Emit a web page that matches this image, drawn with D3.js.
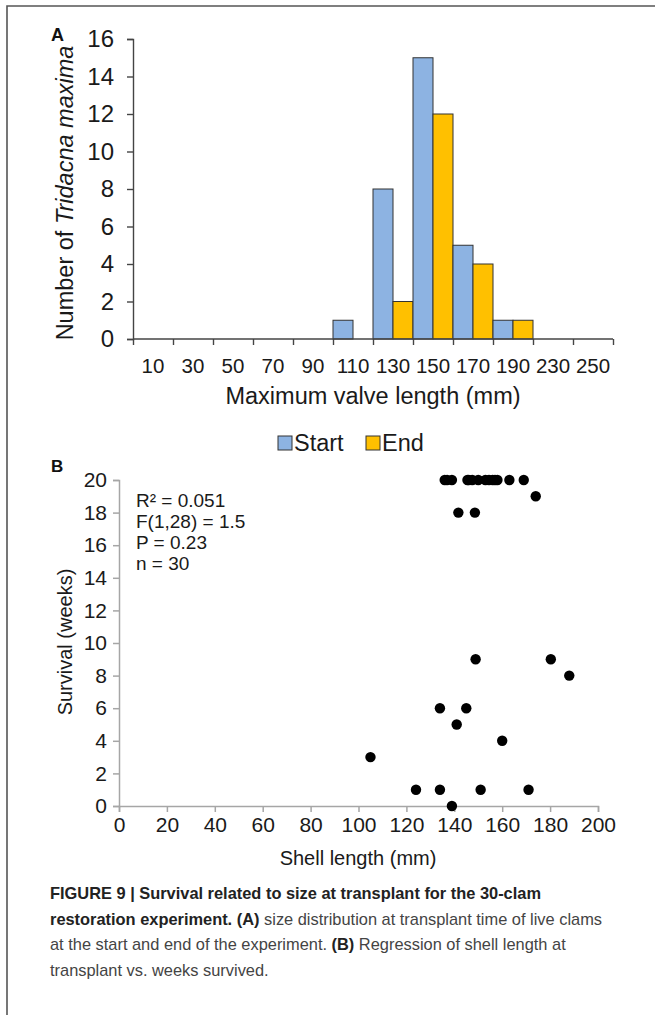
<!DOCTYPE html>
<html><head><meta charset="utf-8">
<script src="https://cdn.jsdelivr.net/npm/d3@7"></script>
<style>
body{margin:0;background:#fff;}
svg{display:block;}
text{font-family:"Liberation Sans",Arial,sans-serif;}
.narrow{font-family:"Liberation Sans Narrow","Liberation Sans",Arial,sans-serif;}
</style></head>
<body><svg id="c" width="655" height="1015"></svg>
<script>
// Panel A data
const sizeClasses = ["10","30","50","70","90","110","130","150","170","190","230","250"];
const startCounts = [0,0,0,0,0,1,8,15,5,1,0,0];
const endCounts   = [0,0,0,0,0,0,2,12,4,1,0,0];
const seriesNames = ["Start","End"];
const yTicksA = [0,2,4,6,8,10,12,14,16];
// Panel B data
const shellLength = [136,137,139,145.5,146,147.5,150,153,154.5,156,157,158,163,169, 174, 141.7,148.6, 148.9,180.3, 188, 134,145, 141, 160, 105, 124,134,151,171, 139];
const survivalWeeks = [20,20,20,20,20,20,20,20,20,20,20,20,20,20, 19, 18,18, 9,9, 8, 6,6, 5, 4, 3, 1,1,1,1, 0];
const xTicksB = [0,20,40,60,80,100,120,140,160,180,200];
const yTicksB = [0,2,4,6,8,10,12,14,16,18,20];
const statsLines = ["R² = 0.051","F(1,28) = 1.5","P = 0.23","n = 30"];

const svg = d3.select("#c");
svg.append("rect").attr("width",655).attr("height",1015).attr("fill","#fff");
// frame
svg.append("path").attr("d","M7,1015V6H655").attr("fill","none").attr("stroke","#555").attr("stroke-width",1.6);

// ---------- Panel A ----------
const colors = {Start:"#8DB3E2", End:"#FFC000"};
const xA = d3.scaleBand().domain(sizeClasses).range([133,613]).padding(0);
const xInner = d3.scaleBand().domain(seriesNames).range([0,xA.bandwidth()]).padding(0);
const yA = d3.scaleLinear().domain([0,16]).range([339,39]);
const gA = svg.append("g");

const rows = sizeClasses.map((c,i)=>({c, Start:startCounts[i], End:endCounts[i]}));
gA.selectAll("g.grp").data(rows).join("g").attr("class","grp")
  .attr("transform",d=>`translate(${xA(d.c)},0)`)
  .selectAll("rect").data(d=>seriesNames.map(s=>({s,v:d[s]})).filter(e=>e.v>0)).join("rect")
  .attr("x",e=>xInner(e.s)).attr("width",xInner.bandwidth())
  .attr("y",e=>yA(e.v)).attr("height",e=>yA(0)-yA(e.v))
  .attr("fill",e=>colors[e.s]).attr("stroke","#333").attr("stroke-width",1);

// y axis
const yAxA = gA.append("g").attr("transform","translate(133,0)")
  .call(d3.axisLeft(yA).tickValues(yTicksA).tickSize(6).tickPadding(13).tickFormat(d3.format("d")));
yAxA.select(".domain").attr("stroke","#444").attr("stroke-width",1.4);
yAxA.selectAll(".tick line").attr("stroke","#444").attr("stroke-width",1.4);
yAxA.selectAll("text").attr("font-size",24).attr("fill","#1a1a1a").attr("font-family","Liberation Sans, Arial");
// x axis boundaries
const xEdge = d3.scaleLinear().domain([0,sizeClasses.length]).range([133,613]);
const xAxA = gA.append("g").attr("transform","translate(0,339)")
  .call(d3.axisBottom(xEdge).tickValues(d3.range(sizeClasses.length+1)).tickSize(6).tickFormat(""));
xAxA.select(".domain").attr("stroke","#444").attr("stroke-width",1.4).attr("d","M133,0H613");
xAxA.selectAll(".tick line").attr("stroke","#444").attr("stroke-width",1.4);
const xLabA = gA.append("g").attr("transform","translate(0,339)")
  .call(d3.axisBottom(xA).tickSize(0).tickPadding(19));
xLabA.select(".domain").remove();
xLabA.selectAll("text").attr("font-size",20.5).attr("fill","#1a1a1a").attr("font-family","Liberation Sans, Arial");

// titles
const yt = gA.append("text").attr("transform","translate(73,193) rotate(-90)")
  .attr("text-anchor","middle").attr("font-size",23.5).attr("fill","#1a1a1a");
yt.append("tspan").text("Number of ");
yt.append("tspan").attr("font-style","italic").text("Tridacna maxima");
gA.append("text").attr("x",373).attr("y",404).attr("text-anchor","middle")
  .attr("font-size",23.5).attr("fill","#1a1a1a").text("Maximum valve length (mm)");
gA.append("text").attr("x",51).attr("y",41).attr("font-size",18).attr("font-weight","bold").attr("fill","#111").text("A");

// legend
const leg = gA.append("g").attr("transform","translate(0,443)");
const legItems = [{s:"Start",x:278},{s:"End",x:366}];
legItems.forEach(it=>{
  leg.append("rect").attr("x",it.x).attr("y",-7).attr("width",14).attr("height",14)
    .attr("fill",colors[it.s]).attr("stroke","#333").attr("stroke-width",1);
  leg.append("text").attr("x",it.x+16).attr("y",8).attr("font-size",23.5).attr("fill","#1a1a1a").text(it.s);
});

// ---------- Panel B ----------
const xB = d3.scaleLinear().domain([0,200]).range([119,598]);
const yB = d3.scaleLinear().domain([0,20]).range([806,480]);
const gB = svg.append("g");
const yAxB = gB.append("g").attr("transform","translate(119,0)")
  .call(d3.axisLeft(yB).tickValues(yTicksB).tickSize(6).tickPadding(6));
const xAxB = gB.append("g").attr("transform","translate(0,806)")
  .call(d3.axisBottom(xB).tickValues(xTicksB).tickSize(6).tickPadding(5));
[yAxB,xAxB].forEach(a=>{
  a.select(".domain").attr("stroke","#a6a6a6").attr("stroke-width",1.5);
  a.selectAll(".tick line").attr("stroke","#a6a6a6").attr("stroke-width",1.5);
  a.selectAll("text").attr("font-size",21).attr("fill","#1a1a1a").attr("class","narrow")
   .attr("font-family","Liberation Sans Narrow, Liberation Sans, Arial");
});
gB.selectAll("circle").data(shellLength.map((x,i)=>({x,y:survivalWeeks[i]}))).join("circle")
  .attr("cx",d=>xB(d.x)).attr("cy",d=>yB(d.y)).attr("r",5.2).attr("fill","#000");

gB.append("text").attr("class","narrow").attr("transform","translate(72,642) rotate(-90)")
  .attr("text-anchor","middle").attr("font-size",20).attr("fill","#1a1a1a").text("Survival (weeks)");
gB.append("text").attr("class","narrow").attr("x",358).attr("y",865).attr("text-anchor","middle")
  .attr("font-size",20).attr("fill","#1a1a1a").text("Shell length (mm)");
gB.append("text").attr("x",51).attr("y",472).attr("font-size",17).attr("font-weight","bold").attr("fill","#111").text("B");
gB.selectAll("text.stat").data(statsLines).join("text").attr("class","stat narrow")
  .attr("x",136).attr("y",(d,i)=>507+i*21).attr("font-size",19).attr("fill","#1a1a1a").text(d=>d);

// ---------- Caption ----------
const cap = svg.append("g").attr("font-size",16.4).attr("fill","#333");
const capLines = [
  [["b","FIGURE 9 | Survival related to size at transplant for the 30-clam"]],
  [["b","restoration experiment. (A)"],["n"," size distribution at transplant time of live clams"]],
  [["n","at the start and end of the experiment. "],["b","(B)"],["n"," Regression of shell length at"]],
  [["n","transplant vs. weeks survived."]]
];
capLines.forEach((ln,i)=>{
  const t = cap.append("text").attr("x",50).attr("y",899+i*25.5);
  ln.forEach(([k,s])=>t.append("tspan").attr("font-weight",k==="b"?"bold":"normal")
    .attr("fill",k==="b"?"#222":"#444").text(s));
});
</script></body></html>
